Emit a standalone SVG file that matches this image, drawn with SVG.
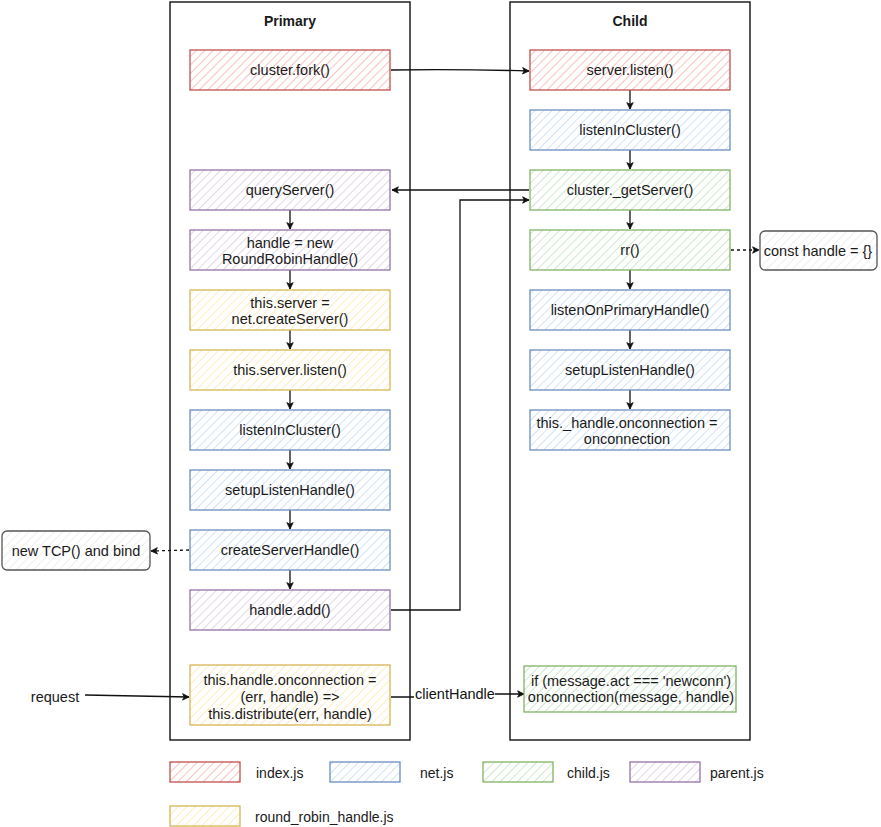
<svg xmlns="http://www.w3.org/2000/svg" width="881" height="827" viewBox="0 0 881 827">
<style>
text{font-family:"Liberation Sans",Arial,sans-serif;font-size:14.5px;fill:#1a1a1a;text-anchor:middle;dominant-baseline:central}
.title{font-weight:bold;font-size:14px}
.lg{text-anchor:start;font-size:14px}
.cont{fill:#fff;stroke:#111;stroke-width:1.4}
.n rect{stroke-width:1.3}
.red{fill:url(#hRed);stroke:#c0504d}
.blue{fill:url(#hBlue);stroke:#6c8ebf}
.green{fill:url(#hGreen);stroke:#82b366}
.purple{fill:url(#hPurple);stroke:#9673a6}
.yellow{fill:url(#hYellow);stroke:#d6b656}
.grey{fill:url(#hGrey);stroke:#555}
.c{fill:none;stroke:#111;stroke-width:1.3;marker-end:url(#ah)}
.d{stroke-dasharray:3 3}
</style>
<defs>
<pattern id="hRed" width="6" height="6" patternUnits="userSpaceOnUse" patternTransform="rotate(45)"><rect width="6" height="6" fill="#fff"/><line x1="0" y1="0" x2="0" y2="6" stroke="#f6c3c1" stroke-width="2"/></pattern>
<pattern id="hBlue" width="6" height="6" patternUnits="userSpaceOnUse" patternTransform="rotate(45)"><rect width="6" height="6" fill="#fff"/><line x1="0" y1="0" x2="0" y2="6" stroke="#d2e2f7" stroke-width="2"/></pattern>
<pattern id="hGreen" width="6" height="6" patternUnits="userSpaceOnUse" patternTransform="rotate(45)"><rect width="6" height="6" fill="#fff"/><line x1="0" y1="0" x2="0" y2="6" stroke="#d0e8ce" stroke-width="2"/></pattern>
<pattern id="hPurple" width="6" height="6" patternUnits="userSpaceOnUse" patternTransform="rotate(45)"><rect width="6" height="6" fill="#fff"/><line x1="0" y1="0" x2="0" y2="6" stroke="#e3d6ea" stroke-width="2"/></pattern>
<pattern id="hYellow" width="6" height="6" patternUnits="userSpaceOnUse" patternTransform="rotate(45)"><rect width="6" height="6" fill="#fff"/><line x1="0" y1="0" x2="0" y2="6" stroke="#fcedc2" stroke-width="2"/></pattern>
<pattern id="hGrey" width="6" height="6" patternUnits="userSpaceOnUse" patternTransform="rotate(45)"><rect width="6" height="6" fill="#fff"/><line x1="0" y1="0" x2="0" y2="6" stroke="#efefef" stroke-width="2"/></pattern>
<marker id="ah" viewBox="0 0 10 10" refX="9" refY="5" markerWidth="8" markerHeight="8" markerUnits="userSpaceOnUse" orient="auto"><path d="M1,1 L9,5 L1,9 L3,5 Z" fill="#111" stroke="#111" stroke-width="1"/></marker>
</defs>

<g id="primary">
<rect class="cont" x="170" y="2" width="240" height="738"/>
<text class="title" x="290" y="21">Primary</text>
</g>
<g id="child">
<rect class="cont" x="510" y="2" width="240" height="738"/>
<text class="title" x="630" y="21">Child</text>
</g>

<g id="connectors">
<path class="c" d="M391,70 Q460,69 529,71"/>
<path class="c" d="M630,90 L630,109"/>
<path class="c" d="M630,150 L630,169"/>
<path class="c" d="M630,210 L630,229"/>
<path class="c" d="M630,270 L630,289"/>
<path class="c" d="M630,330 L630,349"/>
<path class="c" d="M630,390 L630,409"/>
<path class="c" d="M529,190 L392,190"/>
<path class="c" d="M391,610 L460,610 L460,200 L529,200"/>
<path class="c d" d="M731,250 L759,250"/>
<path class="c d" d="M189,550 L151,551"/>
<path class="c" d="M290,210 L290,229"/>
<path class="c" d="M290,270 L290,289"/>
<path class="c" d="M290,330 L290,349"/>
<path class="c" d="M290,390 L290,409"/>
<path class="c" d="M290,450 L290,469"/>
<path class="c" d="M290,510 L290,529"/>
<path class="c" d="M290,570 L290,589"/>
<path class="c" d="M85,695 L189,697"/>
<path class="c" d="M391,697 L414,697 M495,694 L524,694"/>
<text x="455" y="694" style="fill:#111">clientHandle</text>
</g>

<g id="n-fork" class="n"><rect class="red" x="190" y="50" width="200" height="40"/><text x="290" y="70">cluster.fork()</text></g>
<g id="n-queryServer" class="n"><rect class="purple" x="190" y="170" width="200" height="40"/><text x="290" y="190">queryServer()</text></g>
<g id="n-rrh" class="n"><rect class="purple" x="190" y="230" width="200" height="40"/><text x="290" y="243">handle = new</text><text x="290" y="259">RoundRobinHandle()</text></g>
<g id="n-createServer" class="n"><rect class="yellow" x="190" y="290" width="200" height="40"/><text x="290" y="303">this.server =</text><text x="290" y="319">net.createServer()</text></g>
<g id="n-serverListen-p" class="n"><rect class="yellow" x="190" y="350" width="200" height="40"/><text x="290" y="370">this.server.listen()</text></g>
<g id="n-lic-p" class="n"><rect class="blue" x="190" y="410" width="200" height="40"/><text x="290" y="430">listenInCluster()</text></g>
<g id="n-slh-p" class="n"><rect class="blue" x="190" y="470" width="200" height="40"/><text x="290" y="490">setupListenHandle()</text></g>
<g id="n-csh" class="n"><rect class="blue" x="190" y="530" width="200" height="40"/><text x="290" y="550">createServerHandle()</text></g>
<g id="n-add" class="n"><rect class="purple" x="190" y="590" width="200" height="40"/><text x="290" y="610">handle.add()</text></g>
<g id="n-onconn-p" class="n"><rect class="yellow" x="190" y="665" width="200" height="60"/><text x="290" y="680">this.handle.onconnection =</text><text x="290" y="697">(err, handle) =&gt;</text><text x="290" y="714">this.distribute(err, handle)</text></g>

<g id="n-listen-c" class="n"><rect class="red" x="530" y="50" width="200" height="40"/><text x="630" y="70">server.listen()</text></g>
<g id="n-lic-c" class="n"><rect class="blue" x="530" y="110" width="200" height="40"/><text x="630" y="130">listenInCluster()</text></g>
<g id="n-getServer" class="n"><rect class="green" x="530" y="170" width="200" height="40"/><text x="630" y="190">cluster._getServer()</text></g>
<g id="n-rr" class="n"><rect class="green" x="530" y="230" width="200" height="40"/><text x="630" y="250">rr()</text></g>
<g id="n-lph" class="n"><rect class="blue" x="530" y="290" width="200" height="40"/><text x="630" y="310">listenOnPrimaryHandle()</text></g>
<g id="n-slh-c" class="n"><rect class="blue" x="530" y="350" width="200" height="40"/><text x="630" y="370">setupListenHandle()</text></g>
<g id="n-onconn-c" class="n"><rect class="blue" x="530" y="410" width="200" height="40"/><text x="627" y="423">this._handle.onconnection =</text><text x="627" y="439">onconnection</text></g>
<g id="n-newconn" class="n"><rect class="green" x="524" y="666" width="212" height="46"/><text x="631" y="681">if (message.act === 'newconn')</text><text x="631" y="697">onconnection(message, handle)</text></g>

<g id="n-consthandle" class="n"><rect class="grey" x="760" y="231" width="117" height="39" rx="5"/><text x="818" y="251">const handle = {}</text></g>
<g id="n-newtcp" class="n"><rect class="grey" x="2" y="531" width="148" height="39" rx="5"/><text x="76" y="551">new TCP() and bind</text></g>
<g id="n-request"><text x="55" y="697">request</text></g>

<g id="legend">
<rect class="red" x="170" y="762" width="70" height="20" stroke-width="1.3"/><text class="lg" x="256" y="773">index.js</text>
<rect class="blue" x="330" y="762" width="70" height="20" stroke-width="1.3"/><text class="lg" x="420" y="773">net.js</text>
<rect class="green" x="483" y="762" width="70" height="20" stroke-width="1.3"/><text class="lg" x="567" y="773">child.js</text>
<rect class="purple" x="630" y="762" width="70" height="20" stroke-width="1.3"/><text class="lg" x="710" y="773">parent.js</text>
<rect class="yellow" x="170" y="806" width="70" height="20" stroke-width="1.3"/><text class="lg" x="255" y="817">round_robin_handle.js</text>
</g>
</svg>
